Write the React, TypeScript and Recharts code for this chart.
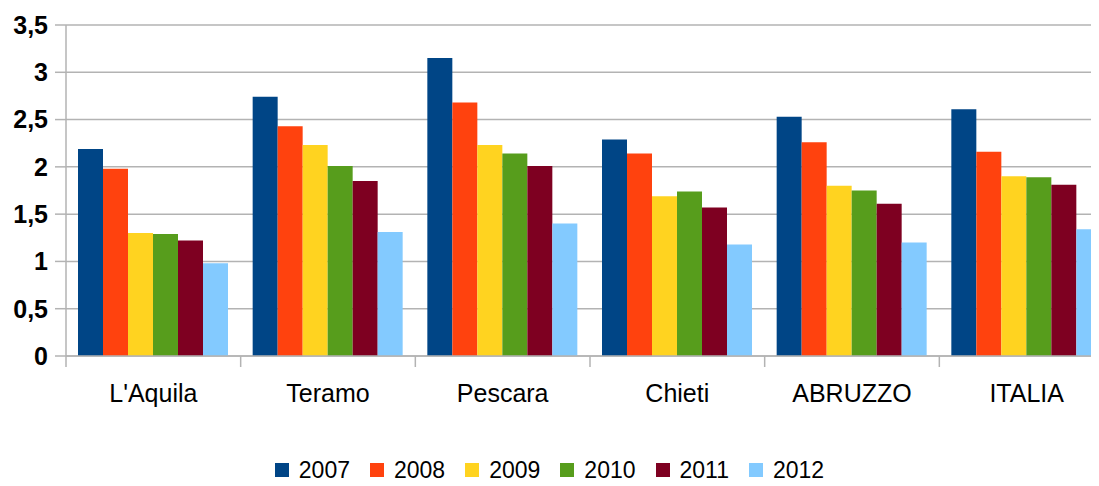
import { BarChart, Bar, XAxis, YAxis, CartesianGrid, Legend } from "recharts";

// Tasso per provincia, 2007–2012
const categories = ["L'Aquila", "Teramo", "Pescara", "Chieti", "ABRUZZO", "ITALIA"];
const years = ["2007", "2008", "2009", "2010", "2011", "2012"];
const v2007 = [2.19, 2.74, 3.15, 2.29, 2.53, 2.61];
const v2008 = [1.98, 2.43, 2.68, 2.14, 2.26, 2.16];
const v2009 = [1.3, 2.23, 2.23, 1.69, 1.8, 1.9];
const v2010 = [1.29, 2.01, 2.14, 1.74, 1.75, 1.89];
const v2011 = [1.22, 1.85, 2.01, 1.57, 1.61, 1.81];
const v2012 = [0.98, 1.31, 1.4, 1.18, 1.2, 1.34];
const yTicks = [0, 0.5, 1, 1.5, 2, 2.5, 3, 3.5];

const seriesValues = [v2007, v2008, v2009, v2010, v2011, v2012];
const colors = ["#004586", "#ff420e", "#ffd320", "#579d1c", "#7e0021", "#83caff"];

const data = categories.map((name, i) => {
  const row: Record<string, string | number> = { name };
  years.forEach((y, k) => {
    row[y] = seriesValues[k][i];
  });
  return row;
});

const FONT = "'Liberation Sans', Arial, sans-serif";
const GRID = "#b3b3b3";
const CHART_W = 1114;
const CHART_H = 486;
const Y_W = 66;
const BAND = (CHART_W - Y_W) / categories.length;

function CategoryTick(props: any) {
  const { x, y, payload, index } = props;
  const left = x - BAND / 2;
  return (
    <g>
      <line x1={left} x2={left} y1={y} y2={y + 11} stroke={GRID} strokeWidth={1.5} />
      {index === categories.length - 1 && (
        <line x1={left + BAND} x2={left + BAND} y1={y} y2={y + 11} stroke={GRID} strokeWidth={1.5} />
      )}
      <text x={x} y={y + 46} textAnchor="middle" fill="#000" fontSize={25} fontFamily={FONT}>
        {payload.value}
      </text>
    </g>
  );
}

function YearLegend() {
  return (
    <div
      style={{
        display: "flex",
        justifyContent: "center",
        alignItems: "center",
        height: 22,
        fontFamily: FONT,
        fontSize: 23,
        lineHeight: "22px",
        color: "#000",
      }}
    >
      {years.map((y, k) => (
        <div key={y} style={{ display: "flex", alignItems: "center", marginRight: k < years.length - 1 ? 20 : 0 }}>
          <span style={{ width: 14, height: 14, background: colors[k], display: "inline-block", marginRight: 10 }} />
          <span>{y}</span>
        </div>
      ))}
    </div>
  );
}

export default function App() {
  return (
    <div
      style={{
        margin: "-8px 0 -8px -8px",
        width: 1099,
        height: CHART_H,
        overflow: "hidden",
        position: "relative",
        background: "#fff",
      }}
    >
      <BarChart
        width={CHART_W}
        height={CHART_H}
        data={data}
        margin={{ top: 25, right: 0, bottom: 0, left: 0 }}
        barCategoryGap={12}
        barGap={0}
      >
        <CartesianGrid vertical={false} stroke={GRID} strokeWidth={1.5} />
        <XAxis
          dataKey="name"
          height={108}
          axisLine={{ stroke: GRID, strokeWidth: 1.5 }}
          tickLine={false}
          tickSize={0}
          tickMargin={0}
          interval={0}
          tick={<CategoryTick />}
        />
        <YAxis
          width={Y_W}
          domain={[0, 3.5]}
          ticks={yTicks}
          interval={0}
          axisLine={{ stroke: GRID, strokeWidth: 1.5 }}
          tickLine={{ stroke: GRID, strokeWidth: 1.5 }}
          tickSize={11}
          tickMargin={7}
          tickFormatter={(v: number) => String(v).replace(".", ",")}
          tick={{ fill: "#000", fontSize: 25, fontWeight: "bold", fontFamily: FONT }}
        />
        <Legend
          verticalAlign="bottom"
          content={<YearLegend />}
          wrapperStyle={{ left: 0, width: 1099, bottom: 5 }}
        />
        {years.map((y, k) => (
          <Bar key={y} dataKey={y} fill={colors[k]} isAnimationActive={false} />
        ))}
      </BarChart>
    </div>
  );
}
